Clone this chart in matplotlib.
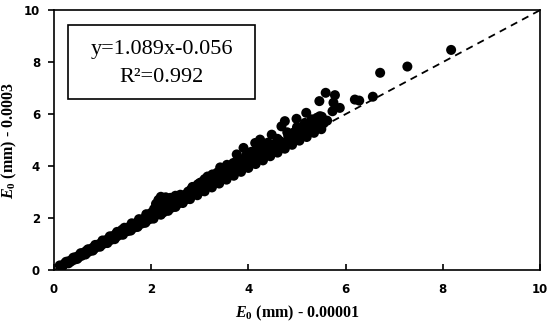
import matplotlib
matplotlib.use("Agg")
import matplotlib.pyplot as plt
from matplotlib.patches import Rectangle

plt.rcParams['mathtext.fontset'] = 'custom'
plt.rcParams['mathtext.rm'] = 'Liberation Serif:bold'
plt.rcParams['mathtext.it'] = 'Liberation Serif:bold:italic'
plt.rcParams['mathtext.bf'] = 'Liberation Serif:bold'

# E0 values (two methods)
e0_ref = [0.12, 0.18, 0.22, 0.28, 0.30, 0.35, 0.38, 0.42, 0.45, 0.50, 0.52, 0.57, 0.60, 0.63,
          0.66, 0.70, 0.72, 0.76, 0.80, 0.83, 0.86, 0.90, 0.93, 0.97, 1.00, 1.03, 1.07, 1.10,
          1.13, 1.17, 1.20, 1.24, 1.27, 1.30, 1.34, 1.38, 1.40, 1.44, 1.48, 1.52, 1.55, 1.60,
          1.63, 1.67, 1.70, 1.74, 1.78, 1.82, 1.85, 1.90, 1.93, 1.97,
          2.00, 2.02, 2.06, 2.08, 2.10, 2.13, 2.15, 2.18, 2.20, 2.22, 2.25, 2.28, 2.30, 2.33,
          2.36, 2.40, 2.42, 2.45, 2.50, 2.52, 2.55, 2.60, 2.62, 2.66, 2.70, 2.72, 2.76, 2.80,
          2.82, 2.86, 2.90, 2.92, 2.96, 3.00, 3.03, 3.06, 3.10, 3.12, 3.16, 3.20, 3.22, 3.26,
          3.30, 3.33, 3.36, 3.40, 3.42, 3.46, 3.50, 3.52, 3.56, 3.60, 3.62, 3.66, 3.69, 3.72,
          3.76, 3.78, 3.82, 3.86, 3.90, 3.92, 3.96, 4.00, 4.03, 4.06, 4.10, 4.14, 4.16, 4.20,
          4.24, 4.26, 4.30, 4.31, 4.35, 4.38, 4.40, 4.45, 4.48, 4.50, 4.55, 4.58, 4.62, 4.65,
          4.68, 4.70, 4.75, 4.78, 4.82, 4.86, 4.90, 4.94, 4.99, 5.02, 5.06, 5.10, 5.14, 5.16,
          5.19, 5.20, 5.24, 5.27, 5.33, 5.36, 5.41, 5.44, 5.46, 5.47, 5.51, 5.55, 5.59, 5.62,
          5.73, 5.75, 5.78, 5.88, 6.19, 6.28, 6.56, 6.71, 7.27, 8.17,
          0.25, 0.40, 0.55, 0.70, 0.85, 1.00, 1.15, 1.30, 1.45, 1.60, 1.75, 1.90,
          0.30, 0.48, 0.65, 0.80, 0.95, 1.10, 1.25, 1.42, 1.58, 1.72, 1.88, 2.05, 2.20, 2.35,
          2.50, 2.65, 2.80, 2.95, 3.10, 3.25, 3.40, 3.55, 3.70, 3.85, 4.00, 4.15, 4.30, 4.45,
          4.60, 4.75, 4.90, 5.05, 5.20, 5.35, 5.50,
          2.35, 2.60, 2.85, 3.00, 3.15, 3.30, 3.45, 3.60, 3.75, 3.95, 4.10, 4.25, 4.40, 4.60,
          4.80, 5.00, 5.30]
e0_new = [0.18, 0.15, 0.25, 0.27, 0.34, 0.33, 0.42, 0.40, 0.50, 0.48, 0.57, 0.55, 0.66, 0.62,
          0.73, 0.69, 0.79, 0.75, 0.86, 0.82, 0.93, 0.90, 1.00, 0.96, 1.08, 1.02, 1.15, 1.09,
          1.22, 1.16, 1.30, 1.23, 1.38, 1.30, 1.45, 1.37, 1.55, 1.44, 1.60, 1.50, 1.66, 1.58,
          1.74, 1.65, 1.82, 1.72, 1.92, 1.80, 1.98, 1.88, 2.10, 1.96,
          2.20, 2.02, 2.35, 2.10, 2.55, 2.18, 2.70, 2.30, 2.82, 2.45, 2.22, 2.65, 2.80, 2.30,
          2.55, 2.78, 2.40, 2.62, 2.86, 2.50, 2.70, 2.60, 2.78, 2.66, 2.90, 2.72, 3.02, 2.80,
          3.10, 2.90, 3.20, 2.95, 3.30, 3.02, 3.38, 3.12, 3.50, 3.18, 3.60, 3.25, 3.45, 3.68,
          3.35, 3.55, 3.75, 3.45, 3.95, 3.60, 3.82, 3.55, 4.05, 3.70, 3.90, 3.68, 4.12, 3.80,
          4.45, 3.95, 3.85, 4.20, 4.70, 3.98, 4.35, 4.05, 4.25, 4.55, 4.15, 4.89, 4.40, 4.25,
          5.02, 4.60, 4.36, 4.44, 4.70, 4.83, 4.48, 4.60, 5.21, 4.56, 4.85, 4.63, 4.70, 4.96,
          5.53, 4.78, 5.73, 4.90, 5.15, 5.08, 4.98, 5.30, 5.82, 5.10, 5.28, 5.45, 5.22, 5.66,
          6.05, 5.40, 5.32, 5.66, 5.60, 5.45, 5.86, 5.60, 6.50, 5.92, 5.90, 5.65, 6.82, 5.75,
          6.11, 6.44, 6.73, 6.24, 6.56, 6.52, 6.67, 7.59, 7.83, 8.47,
          0.32, 0.48, 0.65, 0.80, 0.97, 1.14, 1.30, 1.47, 1.63, 1.80, 1.96, 2.15,
          0.26, 0.43, 0.60, 0.75, 0.90, 1.04, 1.19, 1.36, 1.52, 1.66, 1.82, 1.98, 2.13, 2.28,
          2.43, 2.58, 2.73, 2.88, 3.03, 3.18, 3.33, 3.48, 3.63, 3.78, 3.93, 4.08, 4.22, 4.38,
          4.52, 4.67, 4.82, 4.98, 5.12, 5.28, 5.42,
          2.70, 2.90, 3.20, 3.35, 3.50, 3.65, 3.80, 4.00, 4.10, 4.40, 4.55, 4.70, 4.90, 5.05,
          5.30, 5.50, 5.80]

ticks = [0, 2, 4, 6, 8, 10]

fig = plt.figure(figsize=(5.5, 3.27), dpi=100)
ax = fig.add_axes([0.098, 0.174, 0.884, 0.795])

ax.plot([0, 10], [0, 10], color='black', linestyle=(0, (4, 3)), linewidth=1.3, zorder=1)
ax.scatter(e0_ref, e0_new, s=52, color='black', edgecolors='none', zorder=2)

ax.set_xlim(0, 10)
ax.set_ylim(0, 10)
ax.set_xticks(ticks)
ax.set_yticks(ticks)
ax.tick_params(axis='x', direction='in', length=4, width=1.2, pad=9)
ax.tick_params(axis='y', direction='out', length=4, width=1.2, pad=6)
for lab in ax.get_xticklabels() + ax.get_yticklabels():
    lab.set_fontfamily('DejaVu Sans')
    lab.set_fontweight('bold')
    lab.set_fontsize(8.5)
for sp in ax.spines.values():
    sp.set_linewidth(1.2)
    sp.set_color('black')

ax.set_xlabel(r'$E_0$ (mm) - 0.00001', family='Liberation Serif', weight='bold',
              fontsize=11.5)
ax.set_ylabel(r'$E_0$ (mm) - 0.0003', family='Liberation Serif', weight='bold',
              fontsize=11.5)
ax.xaxis.set_label_coords(0.5, -0.13)
ax.yaxis.set_label_coords(-0.072, 0.5)

ax.add_patch(Rectangle((0.029, 0.658), 0.385, 0.284, transform=ax.transAxes,
                       fill=False, edgecolor='black', linewidth=1.2, zorder=3))
ax.text(0.2215, 0.85, 'y=1.089x-0.056', transform=ax.transAxes, ha='center', va='center',
        family='Liberation Serif', fontsize=16)
ax.text(0.2215, 0.74, 'R²=0.992', transform=ax.transAxes, ha='center', va='center',
        family='Liberation Serif', fontsize=16)

fig.savefig('out.png', dpi=100)
